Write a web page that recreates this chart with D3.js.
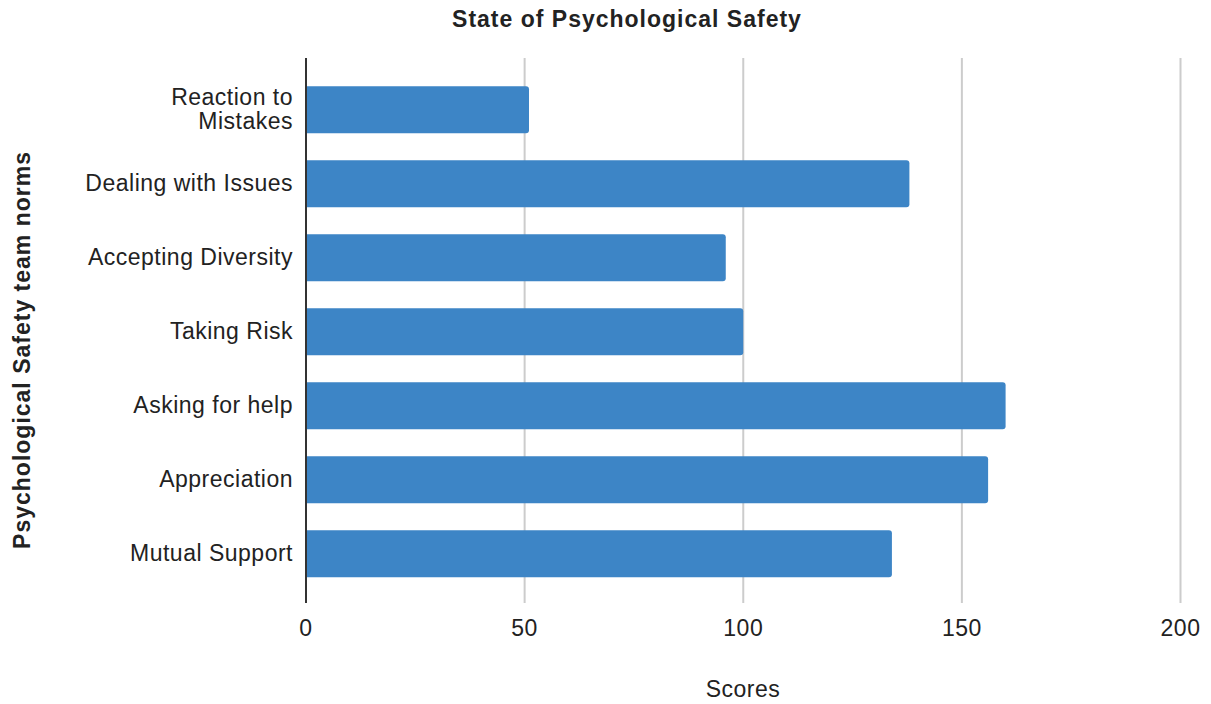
<!DOCTYPE html>
<html>
<head>
<meta charset="utf-8">
<script src="https://cdn.jsdelivr.net/npm/d3@7"></script>
<style>
  body { margin: 0; background: #fff; }
  text { font-family: "Liberation Sans", Arial, sans-serif; fill: #222; }
</style>
</head>
<body>
<svg id="chart" width="1211" height="704"></svg>
<script>
// Team norm categories (top to bottom) and their scores
const categories = [
  "Reaction to\nMistakes",
  "Dealing with Issues",
  "Accepting Diversity",
  "Taking Risk",
  "Asking for help",
  "Appreciation",
  "Mutual Support"
];
const scores = [51, 138, 96, 100, 160, 156, 134];
const xTicks = [0, 50, 100, 150, 200];

const svg = d3.select("#chart");

const left = 306, right = 1180.5;
const bandTop = 73, bandBottom = 590.5;
const gridTop = 58, gridBottom = 603;

const x = d3.scaleLinear().domain([0, 200]).range([left, right]);
const y = d3.scaleBand().domain(categories).range([bandTop, bandBottom]).paddingInner(0.365).paddingOuter(0.18);

// vertical gridlines
svg.append("g").selectAll("line").data(xTicks.slice(1)).join("line")
  .attr("x1", d => x(d)).attr("x2", d => x(d))
  .attr("y1", gridTop).attr("y2", gridBottom)
  .attr("stroke", "#cccccc").attr("stroke-width", 2);

// bars, rounded at the value end only
const r = 3;
svg.append("g").selectAll("path").data(categories).join("path")
  .attr("fill", "#3d85c6")
  .attr("d", (c, i) => {
    const x0 = x(0), x1 = x(scores[i]);
    const y0 = y(c), h = y.bandwidth();
    return `M${x0},${y0} H${x1 - r} Q${x1},${y0} ${x1},${y0 + r} V${y0 + h - r} Q${x1},${y0 + h} ${x1 - r},${y0 + h} H${x0} Z`;
  });

// baseline
svg.append("line")
  .attr("x1", x(0)).attr("x2", x(0))
  .attr("y1", gridTop).attr("y2", gridBottom)
  .attr("stroke", "#333").attr("stroke-width", 2);

// x tick labels
svg.append("g").selectAll("text").data(xTicks).join("text")
  .attr("x", d => x(d)).attr("y", 636)
  .attr("text-anchor", "middle")
  .attr("font-size", 23).attr("letter-spacing", 0.5)
  .text(d => d);

// category labels (multi-line where needed)
const lab = svg.append("g").selectAll("text").data(categories).join("text")
  .attr("text-anchor", "end")
  .attr("font-size", 23).attr("letter-spacing", 0.5)
  .attr("x", 293)
  .attr("y", c => y(c) + y.bandwidth() / 2);
lab.each(function(c) {
  const lines = c.split("\n");
  const t = d3.select(this);
  const lh = 24.5;
  const start = -(lines.length - 1) * lh / 2;
  lines.forEach((ln, k) => {
    t.append("tspan").attr("x", 293).attr("dy", k === 0 ? start + 7 : lh).text(ln);
  });
});

// title
svg.append("text")
  .attr("x", 627).attr("y", 27)
  .attr("text-anchor", "middle")
  .attr("font-size", 23).attr("font-weight", "bold").attr("letter-spacing", 1)
  .attr("fill", "#000")
  .text("State of Psychological Safety");

// axis titles
svg.append("text")
  .attr("x", 743).attr("y", 697)
  .attr("text-anchor", "middle")
  .attr("font-size", 23).attr("letter-spacing", 0.5)
  .text("Scores");

svg.append("text")
  .attr("transform", "translate(30,350) rotate(-90)")
  .attr("text-anchor", "middle")
  .attr("font-size", 23).attr("font-weight", "bold").attr("letter-spacing", 1)
  .attr("fill", "#000")
  .text("Psychological Safety team norms");
</script>
</body>
</html>
